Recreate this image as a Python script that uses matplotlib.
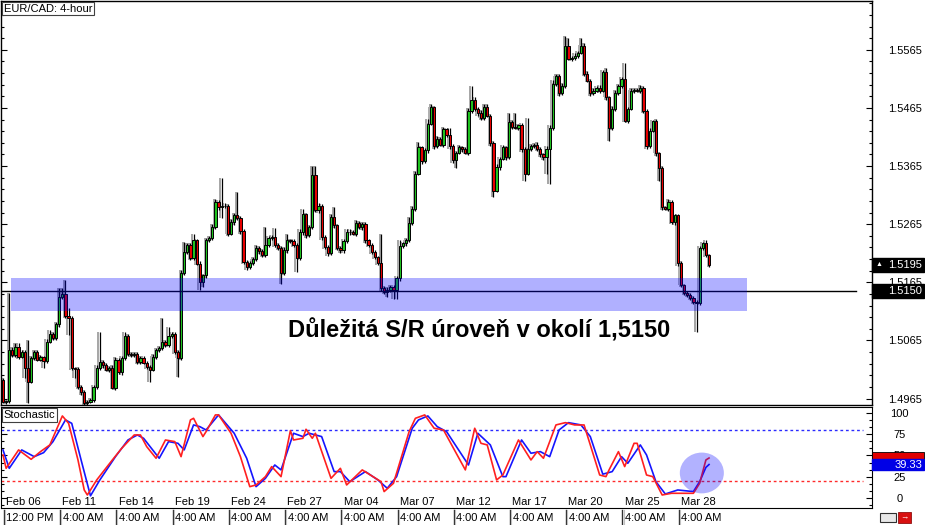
import numpy as np
import matplotlib.pyplot as plt
import matplotlib.transforms as mtransforms
from matplotlib.patches import Rectangle, Ellipse
from matplotlib.ticker import FixedLocator

plt.rcParams['font.family'] = ['Liberation Sans', 'DejaVu Sans']

# EUR/CAD 4-hour candles, prices in pips above 1.0000 (5150 -> 1.5150)
first_open = 4997
closes = [
    4960, 4961, 5049, 5040, 5054, 5037, 5045, 5018, 4994, 5035,
    5045, 5032, 5037, 5030, 5063, 5076, 5069, 5093, 5140, 5145,
    5107, 5104, 5018, 5016, 4985, 4977, 4958, 4960, 4963, 4985,
    5018, 5028, 5023, 5015, 5018, 4984, 5032, 5011, 5035, 5073,
    5042, 5040, 5042, 5028, 5035, 5027, 5020, 5015, 5037, 5049,
    5052, 5063, 5057, 5073, 5076, 5045, 5035, 5181, 5217, 5229,
    5207, 5237, 5197, 5165, 5177, 5237, 5241, 5260, 5303, 5294,
    5296, 5297, 5249, 5268, 5280, 5275, 5253, 5200, 5191, 5198,
    5205, 5224, 5219, 5212, 5229, 5241, 5243, 5229, 5224, 5181,
    5220, 5237, 5236, 5229, 5207, 5251, 5282, 5246, 5260, 5349,
    5289, 5297, 5243, 5226, 5215, 5277, 5263, 5224, 5220, 5236,
    5251, 5252, 5249, 5267, 5260, 5265, 5237, 5229, 5217, 5208,
    5198, 5155, 5148, 5152, 5157, 5152, 5172, 5227, 5232, 5237,
    5267, 5292, 5352, 5397, 5373, 5392, 5438, 5466, 5400, 5412,
    5402, 5428, 5418, 5399, 5375, 5388, 5397, 5394, 5388, 5460,
    5479, 5464, 5457, 5448, 5466, 5452, 5404, 5323, 5363, 5378,
    5397, 5380, 5440, 5433, 5431, 5435, 5394, 5352, 5395, 5399,
    5402, 5395, 5385, 5380, 5395, 5430, 5507, 5520, 5491, 5503,
    5572, 5550, 5551, 5555, 5560, 5572, 5524, 5512, 5491, 5495,
    5500, 5495, 5526, 5483, 5430, 5464, 5491, 5503, 5515, 5443,
    5464, 5495, 5496, 5495, 5500, 5460, 5400, 5426, 5442, 5387,
    5361, 5294, 5292, 5303, 5268, 5280, 5198, 5160, 5147, 5143,
    5138, 5131, 5130, 5224, 5232, 5212, 5195,
]
# wick lengths in pips above / below the body
wick_up = [
    3, 2, 98, 4, 7, 7, 3, 4, 48, 3,
    4, 3, 3, 2, 4, 7, 3, 4, 15, 10,
    24, 14, 3, 2, 4, 3, 2, 3, 3, 4,
    5, 52, 3, 4, 3, 4, 5, 3, 4, 6,
    3, 4, 3, 3, 4, 3, 2, 3, 4, 3,
    4, 41, 3, 15, 3, 4, 3, 5, 17, 4,
    3, 12, 3, 4, 3, 5, 4, 5, 6, 4,
    48, 5, 3, 6, 4, 40, 4, 3, 3, 4,
    3, 5, 3, 4, 31, 4, 3, 15, 3, 4,
    5, 12, 3, 4, 3, 6, 10, 3, 4, 17,
    17, 4, 3, 3, 4, 6, 17, 3, 4, 3,
    5, 4, 3, 6, 3, 4, 4, 3, 3, 4,
    3, 51, 4, 5, 3, 4, 4, 10, 3, 4,
    10, 5, 4, 9, 3, 4, 8, 5, 3, 4,
    3, 4, 3, 13, 4, 3, 5, 3, 4, 5,
    24, 4, 3, 4, 5, 6, 3, 4, 5, 3,
    4, 3, 17, 4, 24, 3, 4, 3, 53, 4,
    3, 4, 3, 3, 4, 5, 6, 4, 3, 5,
    17, 14, 3, 4, 3, 14, 4, 5, 3, 4,
    3, 4, 5, 8, 3, 4, 5, 3, 4, 28,
    3, 4, 3, 4, 5, 3, 4, 5, 3, 4,
    3, 4, 3, 5, 4, 3, 3, 4, 3, 3,
    4, 3, 3, 4, 3, 5, 2,
]
wick_dn = [
    3, 4, 3, 4, 3, 4, 3, 17, 36, 3,
    4, 3, 3, 12, 4, 3, 4, 3, 5, 3,
    4, 29, 3, 15, 4, 5, 4, 4, 3, 4,
    3, 4, 5, 3, 4, 3, 4, 3, 5, 3,
    4, 3, 4, 3, 4, 3, 4, 21, 3, 4,
    3, 4, 3, 4, 3, 3, 33, 3, 3, 4,
    3, 4, 3, 13, 8, 4, 3, 4, 3, 4,
    19, 3, 4, 3, 5, 3, 4, 3, 4, 3,
    4, 3, 5, 3, 4, 3, 4, 3, 4, 19,
    3, 4, 3, 4, 24, 3, 4, 5, 3, 4,
    3, 4, 5, 3, 4, 3, 4, 3, 5, 4,
    3, 4, 3, 4, 3, 5, 4, 3, 4, 3,
    4, 5, 3, 8, 4, 16, 16, 4, 3, 4,
    3, 4, 5, 3, 4, 3, 4, 3, 5, 4,
    3, 4, 3, 4, 5, 14, 3, 4, 3, 4,
    3, 4, 5, 3, 4, 3, 4, 12, 3, 4,
    3, 4, 3, 4, 3, 4, 5, 12, 3, 4,
    3, 4, 5, 4, 28, 60, 3, 4, 5, 3,
    4, 3, 4, 3, 4, 3, 4, 3, 5, 4,
    3, 4, 3, 4, 21, 3, 4, 3, 4, 3,
    4, 3, 4, 3, 4, 3, 5, 4, 3, 4,
    21, 4, 3, 4, 3, 4, 5, 3, 4, 3,
    4, 3, 50, 4, 3, 4, 3,
]

# stochastic oscillator turning points (bar index, value)
k_bars = [0, 1, 5, 9, 12, 15, 19, 21, 24, 26, 27, 30, 35, 38, 42, 44, 46, 49, 52, 55,
          57, 60, 61, 64, 65, 68, 69, 73, 76, 79, 81, 84, 86, 89, 92, 93, 96, 97, 99, 100,
          105, 108, 110, 115, 121, 122, 125, 130, 132, 135, 138, 141, 148, 151, 153, 155, 158, 160, 165, 169,
          171, 173, 177, 180, 183, 186, 191, 193, 194, 197, 199, 202, 203, 206, 208, 211, 214, 217, 221, 223,
          225, 226]
k_vals = [50.6, 34.9, 56.5, 45.5, 54.5, 62.4, 96.5, 87.8, 44.7, 9.4, 3.5, 21.2, 44.7, 58.4, 74.1, 74.1, 60.4, 46.7, 68.2, 66.3,
          48.6, 91.8, 93.7, 72.2, 78.0, 97.7, 97.7, 76.1, 48.6, 13.3, 15.3, 25.1, 36.9, 25.1, 79.2, 68.2, 70.2, 80.8, 70.2, 76.1,
          23.1, 34.9, 15.3, 33.0, 19.2, 7.5, 17.3, 78.0, 93.7, 97.7, 82.0, 80.0, 33.0, 82.0, 64.3, 62.4, 21.2, 27.0, 68.2, 44.7,
          54.5, 46.7, 85.9, 88.6, 85.9, 85.9, 27.0, 25.1, 33.0, 54.5, 36.9, 64.3, 64.3, 27.0, 25.1, 3.5, 5.5, 5.5, 5.5, 17.3,
          44.7, 47.0]
d_bars = [0, 2, 6, 10, 13, 16, 20, 22, 25, 28, 31, 36, 40, 43, 45, 50, 53, 56, 58, 61,
          63, 65, 69, 74, 78, 81, 84, 87, 89, 93, 96, 98, 102, 106, 108, 111, 116, 120, 123, 126,
          131, 133, 136, 139, 142, 149, 152, 156, 160, 161, 166, 169, 172, 175, 178, 181, 185, 188, 192, 195,
          198, 200, 204, 206, 209, 212, 216, 221, 223, 225, 226]
d_vals = [56.5, 34.9, 56.5, 48.6, 53.3, 66.3, 91.8, 87.8, 44.7, 2.5, 21.2, 48.6, 68.2, 74.1, 70.2, 46.7, 66.3, 64.3, 56.5, 85.9,
          83.9, 80.0, 97.7, 76.1, 46.7, 13.3, 23.1, 38.8, 33.0, 76.1, 72.2, 76.1, 72.2, 31.0, 31.0, 19.2, 31.0, 21.2, 11.4, 25.1,
          82.0, 91.8, 96.5, 83.9, 78.0, 38.8, 76.1, 62.4, 25.1, 25.1, 68.2, 52.6, 54.5, 48.6, 80.0, 88.6, 85.9, 72.2, 28.0, 31.0,
          48.6, 40.8, 62.4, 50.6, 19.2, 4.7, 9.4, 7.5, 19.2, 36.0, 39.33]

date_labels = ['Feb 06', 'Feb 11', 'Feb 14', 'Feb 19', 'Feb 24', 'Feb 27', 'Mar 04',
               'Mar 07', 'Mar 12', 'Mar 17', 'Mar 20', 'Mar 25', 'Mar 28']
time_labels = ['12:00 PM'] + ['4:00 AM'] * 12
bars_per_label = 18

sr_level = 1.5150
band_top, band_bottom = 1.5173, 1.5116
annotation = 'Důležitá S/R úroveň v okolí 1,5150'

# ---- build OHLC
c = 1 + np.array(closes) / 10000
o = np.r_[1 + first_open / 10000, c[:-1]]
hi = np.maximum(o, c) + np.array(wick_up) / 10000
lo = np.minimum(o, c) - np.array(wick_dn) / 10000
x = np.arange(len(c))

GREEN = '#1fc21f'
RED = '#e60000'

W, H = 925, 525
fig = plt.figure(figsize=(W / 100, H / 100), dpi=100)
ax = fig.add_axes([1 / W, (H - 405) / H, 871 / W, 404 / H])
ax_st = fig.add_axes([1 / W, (H - 508) / H, 871 / W, 101 / H])

px_per_bar = 3.124
xl = (-2 / px_per_bar, -2 / px_per_bar + 871 / px_per_bar)

# ---- price panel
up = c >= o
ax.vlines(x - 0.45, lo, hi, colors='#a5a5a5', lw=1.4, zorder=1)
ax.bar(x - 0.45, np.abs(c - o) + 0.00005, bottom=np.minimum(o, c), width=0.7,
       color='#b0b0b0', linewidth=0, zorder=1)
ax.vlines(x, lo, hi, colors='black', lw=0.9, zorder=2)
ax.bar(x, np.where(np.abs(c - o) < 0.00005, 0.00005, c - o), bottom=o, width=0.72,
       color=np.where(up, GREEN, RED), edgecolor='black', linewidth=0.7, zorder=3)

ax.axhline(sr_level, xmin=0, xmax=855 / 871, color='black', lw=1, zorder=4)
ax.axhspan(band_bottom, band_top, xmin=10 / 871, xmax=746 / 871,
           color='blue', alpha=0.31, lw=0, zorder=5)
ax.text(0.549, 0.183, annotation, transform=ax.transAxes, ha='center', va='center',
        fontsize=17, fontweight='bold', color='black', zorder=6)
ax.text(0.003, 0.993, 'EUR/CAD: 4-hour', transform=ax.transAxes, ha='left', va='top',
        fontsize=8, zorder=7,
        bbox=dict(boxstyle='square,pad=0.15', fc='white', ec='#404040', lw=0.8))

ax.set_xlim(*xl)
ax.set_ylim(1.4954, 1.5649)
ax.yaxis.set_major_locator(FixedLocator(np.arange(1.4965, 1.565, 0.01)))
ax.yaxis.set_minor_locator(FixedLocator(np.arange(1.4945, 1.565, 0.002)))
ax.yaxis.set_major_formatter(plt.FuncFormatter(lambda v, p: f'{v:.4f}'))
ax.tick_params(axis='y', which='both', direction='in', left=True, right=True,
               labelleft=False, labelright=True, labelsize=8, pad=11.5, width=0.8)
ax.tick_params(axis='y', which='major', length=4.5)
ax.tick_params(axis='y', which='minor', length=2.3)
ax.set_xticks([])
for s in ax.spines.values():
    s.set_linewidth(1)

# value boxes on the price scale
bt = mtransforms.blended_transform_factory(ax.transAxes, ax.transData)
for val, txt, marker in [(c[-1], f'{c[-1]:.4f}', True), (sr_level, f'{sr_level:.4f}', False)]:
    ax.add_patch(Rectangle((1.0, val - 0.0012), 52 / 871, 0.0024, transform=bt,
                           fc='black', ec='black', clip_on=False, zorder=10))
    ax.text(1.0 + 16 / 871, val, txt, transform=bt, ha='left', va='center',
            color='white', fontsize=8, clip_on=False, zorder=11)
    if marker:
        ax.text(1.0 + 4 / 871, val, '\u25B2', transform=bt, ha='left', va='center',
                color='white', fontsize=5, clip_on=False, zorder=11)

# ---- stochastic panel
ax_st.axhline(80, xmax=0.99, color='#2a2aff', lw=1, ls=(0, (2, 2)))
ax_st.axhline(20, xmax=0.99, color='#ff2a2a', lw=1, ls=(0, (2, 2)))
ax_st.plot(d_bars, d_vals, color='#1515ff', lw=1.2, zorder=3)
ax_st.plot(k_bars, k_vals, color='#ff2020', lw=1.2, zorder=3)
ax_st.add_patch(Ellipse((223.7, 29.4), 14.1, 48, color='blue', alpha=0.3, lw=0, zorder=5))
ax_st.text(0.003, 0.97, 'Stochastic', transform=ax_st.transAxes, ha='left', va='top',
           fontsize=8, zorder=7,
           bbox=dict(boxstyle='square,pad=0.15', fc='white', ec='#404040', lw=0.8))

ax_st.set_xlim(*xl)
ax_st.set_ylim(-11.8, 107)
ax_st.yaxis.set_major_locator(FixedLocator([0, 25, 50, 75, 100]))
ax_st.yaxis.set_minor_locator(FixedLocator(np.arange(-25 / 3, 107, 25 / 3)))
ax_st.tick_params(axis='y', which='both', direction='in', left=True, right=True,
                  labelleft=False, labelright=True, labelsize=8, pad=20, width=0.8)
ax_st.tick_params(axis='y', which='major', length=4.5)
ax_st.tick_params(axis='y', which='minor', length=2.3)
for t in ax_st.get_yticklabels():
    t.set_ha('center')
ax_st.set_xticks([])

st_bt = mtransforms.blended_transform_factory(ax_st.transAxes, ax_st.transData)
ax_st.add_patch(Rectangle((1.0, k_vals[-1] - 7), 52 / 871, 14, transform=st_bt,
                          fc='#e00000', ec='black', lw=0.6, clip_on=False, zorder=10))
ax_st.add_patch(Rectangle((1.0, d_vals[-1] - 7), 52 / 871, 14, transform=st_bt,
                          fc='#0000e6', ec='#0000e6', clip_on=False, zorder=11))
ax_st.text(1.0 + 50 / 871, d_vals[-1], f'{d_vals[-1]:.2f}', transform=st_bt, ha='right',
           va='center', color='white', fontsize=8, clip_on=False, zorder=12)

# date labels inside the panel, time labels in boxes below it
xt = mtransforms.blended_transform_factory(ax_st.transData, ax_st.transAxes)
for k, (d, t) in enumerate(zip(date_labels, time_labels)):
    b = 1 + bars_per_label * k
    ax_st.text(b, 0.055, d, transform=xt, ha='left', va='center', fontsize=8)
    ax_st.plot([b - 0.7, b - 0.7], [-0.02, -0.17], transform=xt, color='#303030',
               lw=1, clip_on=False)
    ax_st.plot([b - 0.35, b - 0.35], [-0.02, -0.17], transform=xt, color='#c0c0c0',
               lw=0.8, clip_on=False)
    ax_st.text(b + 0.1, -0.1, t, transform=xt, ha='left', va='center', fontsize=8,
               clip_on=False)

# small toolbar icons bottom right
fig.patches.append(Rectangle((880 / W, 3 / H), 16 / W, 9 / H, transform=fig.transFigure,
                             fc='#e8e8e8', ec='#303030', lw=0.8))
fig.patches.append(Rectangle((898 / W, 2 / H), 13 / W, 11 / H, transform=fig.transFigure,
                             fc='#d81010', ec='#901010', lw=0.6))
fig.text(904.5 / W, 7.5 / H, '\u2192', color='white', fontsize=6, ha='center', va='center')

fig.savefig('out.png', dpi=100)
